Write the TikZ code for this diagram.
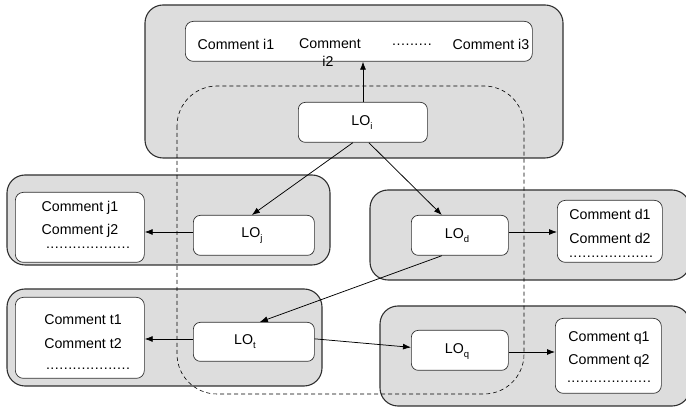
\documentclass[tikz,border=0pt]{standalone}
\usepackage{fontspec}
\setmainfont{Liberation Sans}
\usetikzlibrary{arrows.meta}
\definecolor{panelgrey}{HTML}{DDDDDD}
\definecolor{edgegrey}{HTML}{303030}
\tikzset{
  panel/.style={draw=edgegrey, line width=1.1pt, fill=panelgrey, rounded corners=18pt},
  note/.style={draw=edgegrey, line width=0.7pt, fill=white, rounded corners=8pt},
  lobox/.style={draw=edgegrey, line width=0.7pt, fill=white, rounded corners=7pt},
  txt/.style={inner sep=0pt, font=\fontsize{14.2}{16}\selectfont},
  link/.style={line width=0.75pt, -{Latex[length=8pt,width=6pt]}},
  scopeline/.style={line width=0.6pt, dash pattern=on 4pt off 3pt, rounded corners=40pt}
}
\newcommand{\sub}[1]{\raisebox{-4pt}{\fontsize{9.5}{10}\selectfont #1}}
\newcommand{\dotrow}{\makebox[0pt]{.\hspace{0.5pt}.\hspace{0.5pt}.\hspace{0.5pt}.\hspace{0.5pt}.\hspace{0.5pt}.\hspace{0.5pt}.\hspace{0.5pt}.\hspace{0.5pt}.\hspace{0.5pt}.\hspace{0.5pt}.\hspace{0.5pt}.\hspace{0.5pt}.\hspace{0.5pt}.\hspace{0.5pt}.\hspace{0.5pt}.\hspace{0.5pt}.\hspace{0.5pt}.\hspace{0.5pt}.}}
\begin{document}
\begin{tikzpicture}[x=1pt, y=-1pt]
\useasboundingbox (0,0) rectangle (686,411);

% grey panels
\draw[panel] (145,5) rectangle (563,158);
\draw[panel] (7,175) rectangle (330,265);
\draw[panel] (370,190) rectangle (690,280);
\draw[panel] (7,289) rectangle (322,386);
\draw[panel] (380,306) rectangle (690,406);

% dashed grouping outline
\draw[scopeline] (177,86) rectangle (524,394);

% comment boxes
\node[note, minimum width=347pt, minimum height=40pt, anchor=north west] (ci) at (185,21) {};
\node[txt] at (236,44) {Comment i1};
\node[txt] at (330,44) {Comment};
\node[txt] at (328,61) {i2};
\node[txt] at (412,45) {.\hspace{0.5pt}.\hspace{0.5pt}.\hspace{0.5pt}.\hspace{0.5pt}.\hspace{0.5pt}.\hspace{0.5pt}.\hspace{0.5pt}.\hspace{0.5pt}.};
\node[txt] at (491,44) {Comment i3};

\node[note, minimum width=129pt, minimum height=70pt, anchor=north west] (cj) at (15,192) {};
\node[txt] at (80,208) {Comment j1};
\node[txt] at (80,231) {Comment j2};
\node[txt] at (88,248) {\dotrow};

\node[note, minimum width=105pt, minimum height=62pt, anchor=north west] (cd) at (557,200) {};
\node[txt] at (610,214) {Comment d1};
\node[txt] at (610,238) {Comment d2};
\node[txt] at (611,257) {\dotrow};

\node[note, minimum width=129pt, minimum height=81pt, anchor=north west] (ct) at (15,297) {};
\node[txt] at (83,320) {Comment t1};
\node[txt] at (83,344) {Comment t2};
\node[txt] at (88,369) {\dotrow};

\node[note, minimum width=106pt, minimum height=75pt, anchor=north west] (cq) at (555,318) {};
\node[txt] at (609,338) {Comment q1};
\node[txt] at (609,361) {Comment q2};
\node[txt] at (609,382) {\dotrow};

% learning object boxes
\node[lobox, minimum width=129pt, minimum height=40pt, anchor=north west] (loi) at (298,102) {};
\node[txt] at (362,123) {LO\sub{i}};
\node[lobox, minimum width=121pt, minimum height=40pt, anchor=north west] (loj) at (193,215) {};
\node[txt] at (252,236) {LO\sub{j}};
\node[lobox, minimum width=97pt, minimum height=40pt, anchor=north west] (lod) at (411,215) {};
\node[txt] at (457,236) {LO\sub{d}};
\node[lobox, minimum width=121pt, minimum height=39pt, anchor=north west] (lot) at (193,322) {};
\node[txt] at (245,342) {LO\sub{t}};
\node[lobox, minimum width=97pt, minimum height=40pt, anchor=north west] (loq) at (411,330) {};
\node[txt] at (457,352) {LO\sub{q}};

% connectors
\draw[link] (loi.north -| 363,0) -- (ci.south -| 363,0);
\draw[link] ([xshift=-10pt]loi.south) -- ([xshift=-2pt]loj.north);
\draw[link] ([xshift=6pt]loi.south) -- ([xshift=-18pt]lod.north);
\draw[link] ([xshift=-18pt]lod.south) -- ([xshift=6pt]lot.north);
\draw[link] (loj.west |- 0,232) -- (cj.east |- 0,232);
\draw[link] (lot.west |- 0,339) -- (ct.east |- 0,339);
\draw[link] (lod.east |- 0,232) -- (cd.west |- 0,232);
\draw[link] (loq.east |- 0,352) -- (cq.west |- 0,352);
\draw[link] ([yshift=3pt]lot.east) -- ([yshift=3pt]loq.west);
\end{tikzpicture}
\end{document}
